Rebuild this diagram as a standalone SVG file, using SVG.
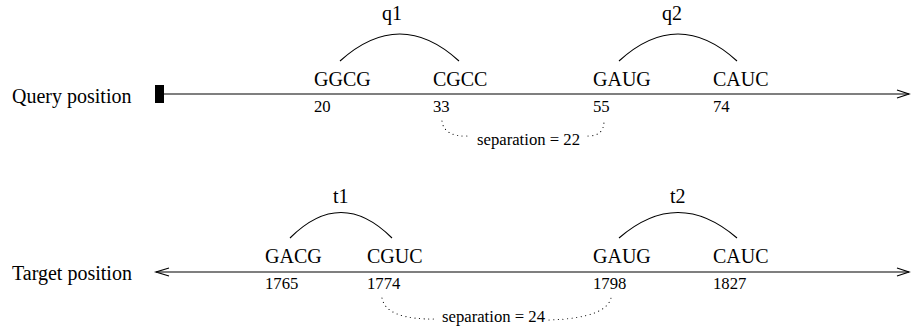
<svg xmlns="http://www.w3.org/2000/svg" width="911" height="330" viewBox="0 0 911 330">
<style>
text { font-family: "Liberation Serif", "Times New Roman", serif; fill: #000; }
.big { font-size: 20px; }
.small { font-size: 16.7px; }
.axis { stroke: #000; stroke-width: 1.2; fill: none; }
.arc { stroke: #000; stroke-width: 1.1; fill: none; }
.dot { stroke: #000; stroke-width: 1.1; fill: none; stroke-dasharray: 0.1 4.5; stroke-linecap: round; }
</style>
<rect width="911" height="330" fill="#fff"/>
<g id="query-axis">
  <text class="big" x="12" y="103">Query position</text>
  <rect x="155" y="85" width="9" height="18" fill="#000"/>
  <line class="axis" x1="164" y1="94" x2="909" y2="94"/>
  <polyline class="axis" points="897,90 909,94 897,98"/>
</g>
<g id="q1">
  <text class="big" x="382" y="20">q1</text>
  <path class="arc" d="M340,61 Q400,7 459,61"/>
  <text class="big" x="314" y="86">GGCG</text>
  <text class="small" x="314" y="112">20</text>
  <text class="big" x="433" y="86">CGCC</text>
  <text class="small" x="433" y="112">33</text>
</g>
<g id="q2">
  <text class="big" x="662" y="20">q2</text>
  <path class="arc" d="M619,61 Q678,7 737,61"/>
  <text class="big" x="593" y="86">GAUG</text>
  <text class="small" x="593" y="112">55</text>
  <text class="big" x="713" y="86">CAUC</text>
  <text class="small" x="713" y="112">74</text>
</g>
<g id="sep-q">
  <text class="small" x="477" y="145">separation = 22</text>
</g>
<g id="target-axis">
  <text class="big" x="12" y="280">Target position</text>
  <line class="axis" x1="156" y1="272" x2="909" y2="272"/>
  <polyline class="axis" points="169,268 156,272 169,276"/>
  <polyline class="axis" points="897,268 909,272 897,276"/>
</g>
<g id="t1">
  <text class="big" x="333" y="203">t1</text>
  <path class="arc" d="M290,238 Q341,187 392,238"/>
  <text class="big" x="265" y="263">GACG</text>
  <text class="small" x="265" y="289">1765</text>
  <text class="big" x="367" y="263">CGUC</text>
  <text class="small" x="367" y="289">1774</text>
</g>
<g id="t2">
  <text class="big" x="670" y="203">t2</text>
  <path class="arc" d="M619,238 Q678,187 737,238"/>
  <text class="big" x="593" y="263">GAUG</text>
  <text class="small" x="593" y="289">1798</text>
  <text class="big" x="713" y="263">CAUC</text>
  <text class="small" x="713" y="289">1827</text>
</g>
<g id="sep-t">
  <text class="small" x="442" y="322">separation = 24</text>
</g>
<g id="connectors">
  <path class="dot" d="M442,121 Q444,137 468,136"/>
  <path class="dot" d="M588,136 Q604,136 604,121"/>
  <path class="dot" d="M382,298 Q386,320 437,319"/>
  <path class="dot" d="M549,320 Q606,318 611,298"/>
</g>
</svg>
